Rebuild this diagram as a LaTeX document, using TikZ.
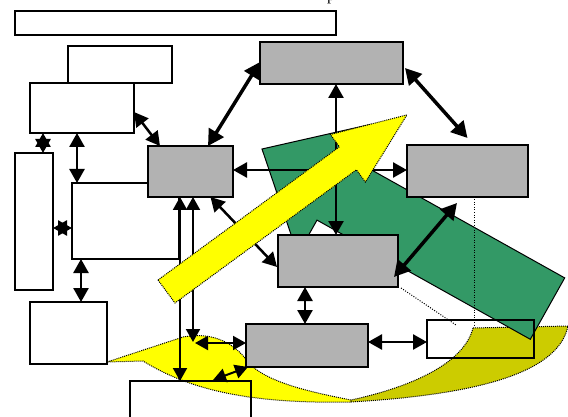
\documentclass[tikz,border=0pt]{standalone}
\usepackage{fontspec}
\setmainfont{Liberation Serif}
\usetikzlibrary{arrows.meta,calc}
\definecolor{boxgray}{RGB}{178,178,178}
\definecolor{arrgreen}{RGB}{51,153,102}
\definecolor{olivey}{RGB}{204,204,0}
\definecolor{ylw}{RGB}{255,255,0}
\tikzset{
  wbox/.style={draw,line width=1.2pt,fill=white,inner sep=0pt,outer sep=0pt},
  obox/.style={draw,line width=1.2pt,inner sep=0pt,outer sep=0pt},
  gbox/.style={draw,line width=1.2pt,fill=boxgray,inner sep=0pt,outer sep=0pt},
  dbl/.style={line width=2.5pt,{Triangle[length=14pt,width=15pt]}-{Triangle[length=14pt,width=15pt]}},
  dblthin/.style={line width=2pt,{Triangle[length=13pt,width=14pt]}-{Triangle[length=13pt,width=14pt]}},
  dblthick/.style={line width=3.5pt,{Triangle[length=16pt,width=17pt]}-{Triangle[length=16pt,width=17pt]}},
  dotln/.style={line width=1pt,dash pattern=on 1pt off 1.5pt},
  dotborder/.style={draw=black,line width=1pt,dash pattern=on 1pt off 1pt}
}
\begin{document}
\begin{tikzpicture}[x=1pt,y=-1pt]
\useasboundingbox (0,0) rectangle (568,417);
\clip (0,0) rectangle (568,417);

% partially visible text at top
\node[anchor=base west,inner sep=0pt,font=\fontsize{16pt}{18pt}\selectfont] (ptxt) at (327,1) {p};

% white boxes
\node[wbox,minimum width=321pt,minimum height=24pt] (top) at (175.5,23) {};
\node[wbox,minimum width=104pt,minimum height=37pt] (b1) at (120,64.5) {};
\node[wbox,minimum width=104pt,minimum height=50pt] (b2) at (82,108) {};
\node[wbox,minimum width=38pt,minimum height=137pt] (tall) at (34,221.5) {};
\node[wbox,minimum width=107pt,minimum height=76pt] (wm) at (125.5,221) {};
\node[wbox,minimum width=77pt,minimum height=62pt] (sw) at (68.5,333) {};

% olive back face of curved ribbon
\draw[fill=olivey,dotborder] (473,328) -- (568,326)
  .. controls (558,375) and (470,395) .. (351,402)
  .. controls (350,401) .. (351,400)
  .. controls (420,385) and (465,360) .. (473,328) -- cycle;
% yellow front face of curved ribbon
\draw[fill=ylw,dotborder] (107,362) -- (183,337)
  .. controls (215,331) and (236,345) .. (248,362)
  .. controls (265,382) and (310,392) .. (351,400)
  -- (351,402)
  .. controls (250,404) and (190,390) .. (143,361) -- cycle;

% green block arrow
\draw[fill=arrgreen,line width=1pt,line join=miter] (262,149) -- (370.6,124.4) -- (351.4,158.7)
  -- (564.7,277.9) -- (530.3,339.3) -- (317,220.1) -- (297.8,254.4) -- cycle;

% grey boxes
\node[gbox,minimum width=85pt,minimum height=51pt] (g1) at (190.5,171.5) {};
\node[gbox,minimum width=143pt,minimum height=42pt] (g2) at (331.5,63) {};
\node[gbox,minimum width=121pt,minimum height=52pt] (g3) at (467.5,171) {};
\node[gbox,minimum width=120pt,minimum height=52pt] (g4) at (338,261) {};
\node[gbox,minimum width=122pt,minimum height=43pt] (g5) at (307,345.5) {};

% unfilled boxes
\node[obox,minimum width=107pt,minimum height=38pt] (wr) at (480.5,339) {};
\node[obox,minimum width=121pt,minimum height=39pt] (bot) at (190.5,400.5) {};

% dotted guide lines
\coordinate (d1end) at (474,326);
\coordinate (d2end) at (456,325);
\draw[dotln] ([shift={(6.5,0)}]g3.south) -- (d1end);
\draw[dotln] ([shift={(3,1)}]g4.south east) -- (d2end);

% connectors
\draw[dbl] ([shift={(0,4)}]b2.east) -- ([shift={(12,0)}]g1.north west);
\draw[dblthick] ([shift={(0,20)}]g2.north west) -- ([shift={(60,0)}]g1.north west);
\draw[dblthick] ([shift={(2,26)}]g2.north east) -- ([shift={(0,-7)}]g3.north);
\draw[dbl] ([shift={(4.5,0)}]g2.south) -- ([shift={(-2,0)}]g4.north);
\draw[dbl] ([shift={(0,-1.5)}]g1.east) -- ([shift={(0,-1)}]g3.west);
\draw[dbl] ([shift={(20,0)}]g1.south) -- ([shift={(-1,6)}]g4.west);
\draw[dblthin] ([shift={(-10.5,0)}]g1.south) -- ([shift={(-10.5,0)}]bot.north);
\coordinate (cornerA) at ([shift={(-53,-3.5)}]g5.west);
\draw[dblthin] ([shift={(2.5,0)}]g1.south) -- (cornerA);
\draw[dblthin] ([shift={(-51,-2.5)}]g5.west) -- ([shift={(0,-2.5)}]g5.west);
\draw[dblthin] ([shift={(2,0)}]g5.south west) -- ([shift={(22.5,-1)}]bot.north);
\draw[dbl] ([shift={(-33,0)}]g4.south) -- ([shift={(-2,0)}]g5.north);
\draw[dbl] ([shift={(0,-3.5)}]g5.east) -- ([shift={(0,3)}]wr.west);
\draw[dblthick] ([shift={(-10.5,6)}]g3.south) -- ([shift={(-4,16)}]g4.east);
\draw[dbl] ([shift={(-39,0)}]b2.south) -- ([shift={(9,0)}]tall.north);
\draw[dbl] ([shift={(-5,0)}]b2.south) -- ([shift={(-48.5,0)}]wm.north);
\draw[dbl] ([shift={(0,6.5)}]tall.east) -- ([shift={(0,7)}]wm.west);
\draw[dbl] ([shift={(-44.5,0)}]wm.south) -- ([shift={(12.5,0)}]sw.north);

% yellow block arrow (on top)
\draw[fill=ylw,dotborder,line join=miter] (158,280) -- (339.4,146.8) -- (330.4,134.5) -- (406.9,114.9)
  -- (365.4,182.1) -- (356.4,169.8) -- (175,303) -- cycle;
\end{tikzpicture}
\end{document}
